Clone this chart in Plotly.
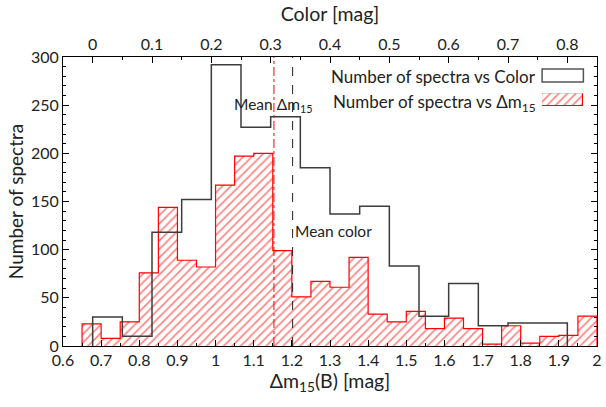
import plotly.graph_objects as go

# Colour histogram (top axis): bin edges every 0.05 mag starting at 0
color_bin_start = 0.0
color_bin_width = 0.05
color_counts = [30, 10, 118, 152, 292, 227, 238, 185, 137, 145, 83, 31, 65, 21, 24, 24]

# Delta m15 histogram (bottom axis): bin edges every 0.05 mag starting at 0.65
dm15_bin_start = 0.65
dm15_bin_width = 0.05
dm15_counts = [23, 8, 25, 76, 144, 89, 82, 167, 197, 200, 99, 51, 67, 61, 92,
               33, 25, 36, 18, 29, 18, 2, 21, 3, 10, 11, 31]

mean_dm15 = 1.153
mean_color = 0.337

x_ticks = [0.6, 0.7, 0.8, 0.9, 1.0, 1.1, 1.2, 1.3, 1.4, 1.5, 1.6, 1.7, 1.8, 1.9, 2.0]
x_ticklabels = ["0.6", "0.7", "0.8", "0.9", "1", "1.1", "1.2", "1.3", "1.4", "1.5",
                "1.6", "1.7", "1.8", "1.9", "2"]
c_ticks = [0, 0.1, 0.2, 0.3, 0.4, 0.5, 0.6, 0.7, 0.8]
c_ticklabels = ["0", "0.1", "0.2", "0.3", "0.4", "0.5", "0.6", "0.7", "0.8"]

FONT = "Lato"
TXT = "#222222"
RED = "#ff0000"
DARK = "#3c3c3c"


def step_outline(start, width, counts):
    edges = [start + i * width for i in range(len(counts) + 1)]
    xs = [edges[0]] + edges[:-1] + [edges[-1]]
    ys = [0] + list(counts) + [0]
    return xs, ys


HATCH = dict(shape="/", fgcolor=RED, size=6, solidity=0.26)

fig = go.Figure()

# hatched fill of the Delta m15 histogram
dm15_centers = [dm15_bin_start + (i + 0.5) * dm15_bin_width for i in range(len(dm15_counts))]
fig.add_trace(go.Bar(
    x=dm15_centers, y=dm15_counts, width=dm15_bin_width,
    marker=dict(color="rgba(0,0,0,0)", line=dict(width=0),
                pattern=dict(bgcolor="rgba(0,0,0,0)", **HATCH)),
    xaxis="x", yaxis="y", showlegend=False, hoverinfo="skip",
))
# outline of the Delta m15 histogram
dx, dy = step_outline(dm15_bin_start, dm15_bin_width, dm15_counts)
fig.add_trace(go.Scatter(x=dx, y=dy, mode="lines", line=dict(color=RED, width=1.2, shape="hv"),
                         xaxis="x", yaxis="y", showlegend=False, hoverinfo="skip"))

# colour histogram as an unfilled step line on the top axis
cx, cy = step_outline(color_bin_start, color_bin_width, color_counts)
fig.add_trace(go.Scatter(x=cx, y=cy, mode="lines", line=dict(color=DARK, width=1.5, shape="hv"),
                         xaxis="x2", yaxis="y", showlegend=False, hoverinfo="skip"))

# legend key for the hatched histogram
fig.add_trace(go.Bar(
    x=[0.5], y=[1], width=[1],
    marker=dict(color="white", line=dict(width=1.2, color=RED),
                pattern=dict(bgcolor="white", **HATCH)),
    xaxis="x3", yaxis="y3", showlegend=False, hoverinfo="skip",
))

# mean lines
fig.add_shape(type="line", xref="x", yref="y", x0=mean_dm15, x1=mean_dm15, y0=0, y1=300,
              line=dict(color=RED, width=1, dash="dashdot"))
fig.add_shape(type="line", xref="x2", yref="y", x0=mean_color, x1=mean_color, y0=0, y1=300,
              line=dict(color="#222222", width=1, dash="dash"))

fig.add_annotation(x=mean_dm15, y=250, xref="x", yref="y", text="Mean Δm<sub>15</sub>",
                   showarrow=False, xanchor="center", yanchor="middle",
                   font=dict(family=FONT, size=15.5, color=TXT))
fig.add_annotation(x=mean_color, y=119, xref="x2", yref="y", text="Mean color",
                   showarrow=False, xanchor="left", yanchor="middle",
                   font=dict(family=FONT, size=15.5, color=TXT))

# legend entries: text on the left, key on the right
fig.add_annotation(x=0.889, y=0.934, xref="x domain", yref="y domain",
                   text="Number of spectra vs Color", showarrow=False,
                   xanchor="right", yanchor="middle",
                   font=dict(family=FONT, size=17, color=TXT))
fig.add_annotation(x=0.889, y=0.84, xref="x domain", yref="y domain",
                   text="Number of spectra vs Δm<sub>15</sub>", showarrow=False,
                   xanchor="right", yanchor="middle",
                   font=dict(family=FONT, size=17, color=TXT))
fig.add_shape(type="rect", xref="x domain", yref="y domain",
              x0=0.8972, x1=0.9745, y0=0.9134, y1=0.9585,
              line=dict(color="#555555", width=1.5), fillcolor="white")

axis_common = dict(showline=True, linecolor="black", linewidth=1, ticks="inside",
                   tickcolor="black", ticklen=6, tickwidth=1, showgrid=False, zeroline=False,
                   tickfont=dict(family=FONT, size=16, color=TXT))

fig.update_layout(
    width=606, height=407,
    margin=dict(l=62.5, r=4.5, t=57.3, b=61),
    plot_bgcolor="white", paper_bgcolor="white",
    bargap=0, barmode="overlay",
    xaxis=dict(range=[0.6, 2.0], tickvals=x_ticks, ticktext=x_ticklabels, mirror=True,
               minor=dict(dtick=0.05, tick0=0.6, ticks="inside", ticklen=3, tickcolor="black"),
               title=dict(text="Δm<sub>15</sub>(B) [mag]", standoff=4,
                          font=dict(family=FONT, size=19.5, color=TXT)),
               **axis_common),
    xaxis2=dict(range=[-0.05, 0.85], overlaying="x", side="top", anchor="y",
                tickvals=c_ticks, ticktext=c_ticklabels,
                minor=dict(dtick=0.05, tick0=0, ticks="inside", ticklen=3, tickcolor="black"),
                title=dict(text="Color [mag]", standoff=6,
                           font=dict(family=FONT, size=19.5, color=TXT)),
                **axis_common),
    yaxis=dict(range=[0, 300], dtick=50, mirror="ticks",
               minor=dict(dtick=10, ticks="inside", ticklen=3, tickcolor="black"),
               title=dict(text="Number of spectra", standoff=2,
                          font=dict(family=FONT, size=19, color=TXT)),
               **axis_common),
    xaxis3=dict(domain=[0.8972, 0.9745], range=[0, 1], visible=False, fixedrange=True),
    yaxis3=dict(domain=[0.8304, 0.8744], range=[0, 1], visible=False, fixedrange=True,
                anchor="x3"),
)

fig.write_html("out.html")
